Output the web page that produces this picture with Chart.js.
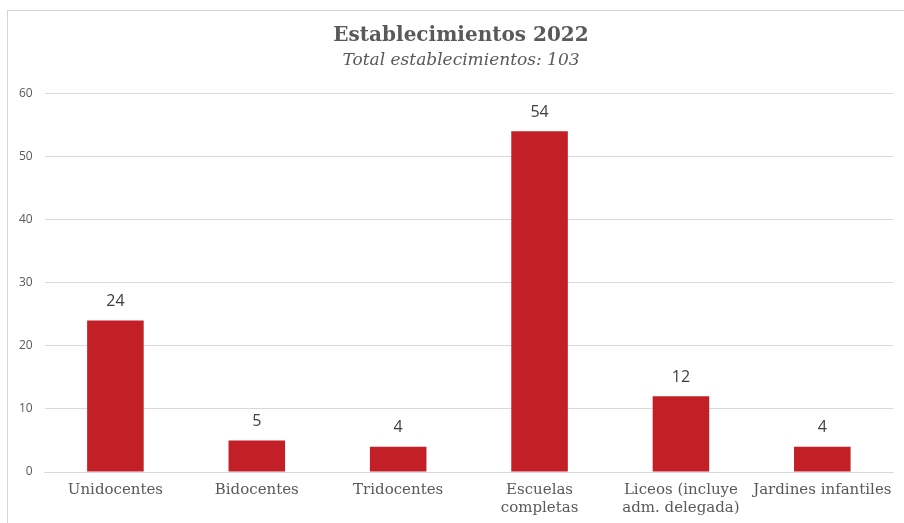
<!DOCTYPE html>
<html>
<head>
<meta charset="utf-8">
<script src="https://cdn.jsdelivr.net/npm/chart.js@4"></script>
<style>
  html, body { margin: 0; padding: 0; background: #fff; }
  #wrap { position: relative; width: 904px; height: 523px; }
  #frame {
    position: absolute; left: 7px; top: 10px; right: 0; bottom: 0;
    border-left: 1px solid #d4d4d4; border-top: 1px solid #d4d4d4;
  }
  canvas { position: absolute; left: 0; top: 0; }
</style>
</head>
<body>
<div id="wrap">
  <div id="frame"></div>
  <canvas id="barChart" width="904" height="523"></canvas>
</div>
<script>
// chart data
const categories = [
  "Unidocentes",
  "Bidocentes",
  "Tridocentes",
  ["Escuelas", "completas"],
  ["Liceos (incluye", "adm. delegada)"],
  "Jardines infantiles"
];
const establecimientos = [24, 5, 4, 54, 12, 4];
const yTicks = [0, 10, 20, 30, 40, 50, 60];

// draws the value above each bar
const valueLabels = {
  id: "valueLabels",
  afterDatasetsDraw(chart) {
    const ctx = chart.ctx;
    const meta = chart.getDatasetMeta(0);
    ctx.save();
    ctx.font = "16px 'Open Sans', sans-serif";
    ctx.fillStyle = "#404040";
    ctx.textAlign = "center";
    ctx.textBaseline = "bottom";
    meta.data.forEach((bar, i) => {
      ctx.fillText(establecimientos[i], bar.x, bar.y - 11);
    });
    ctx.restore();
  }
};

// the original centres the titles a bit right of the canvas middle
const shiftTitles = {
  id: "shiftTitles",
  afterLayout(chart) {
    chart.boxes.forEach((box) => {
      if (box.options && typeof box.options.text === "string") {
        box.left += 11;
        box.right += 11;
      }
    });
  }
};

new Chart(document.getElementById("barChart"), {
  type: "bar",
  data: {
    labels: categories,
    datasets: [
      {
        label: "Establecimientos",
        data: establecimientos,
        backgroundColor: "#c21f26",
        barPercentage: 0.4,
        categoryPercentage: 1.0
      }
    ]
  },
  options: {
    responsive: false,
    animation: false,
    layout: { padding: { left: 7, right: 11, top: 24, bottom: 5 } },
    plugins: {
      legend: { display: false },
      tooltip: { enabled: false },
      title: {
        display: true,
        text: "Establecimientos 2022",
        color: "#595959",
        font: { family: "'DejaVu Serif', serif", size: 20, weight: "bold" },
        padding: { top: 0, bottom: 2 }
      },
      subtitle: {
        display: true,
        text: "Total establecimientos: 103",
        color: "#595959",
        font: { family: "'DejaVu Serif', serif", size: 17, style: "italic" },
        padding: { top: 0, bottom: 23 }
      }
    },
    scales: {
      x: {
        grid: { display: false },
        border: { color: "#d9d9d9" },
        ticks: {
          color: "#595959",
          font: { family: "'DejaVu Serif', serif", size: 15 },
          padding: 1,
          maxRotation: 0,
          autoSkip: false
        }
      },
      y: {
        min: 0,
        max: 60,
        afterBuildTicks(axis) {
          axis.ticks = yTicks.map((v) => ({ value: v }));
        },
        grid: { color: "#d9d9d9", drawTicks: false },
        border: { display: false },
        ticks: {
          color: "#595959",
          font: { family: "'Open Sans', sans-serif", size: 12 },
          padding: 12
        }
      }
    }
  },
  plugins: [valueLabels, shiftTitles]
});
</script>
</body>
</html>
